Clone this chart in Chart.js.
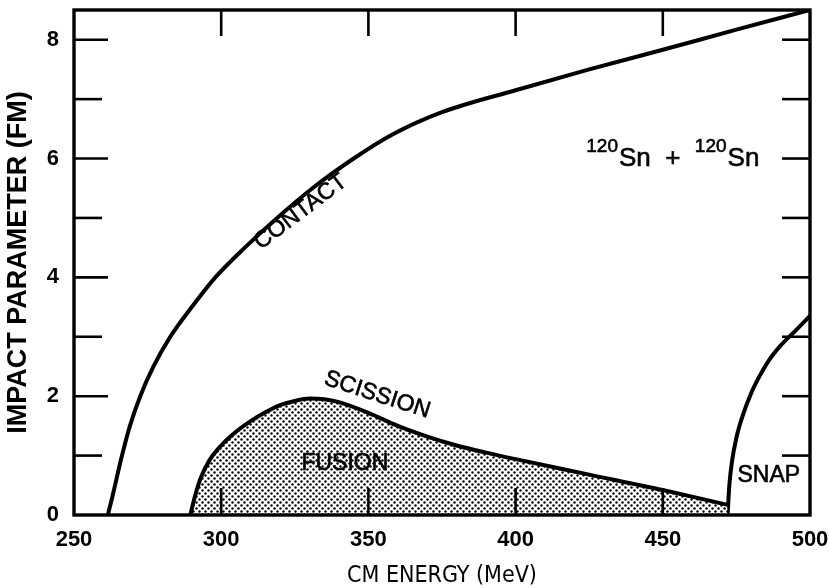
<!DOCTYPE html>
<html>
<head>
<meta charset="utf-8">
<script src="https://cdn.jsdelivr.net/npm/chart.js@4.4.0/dist/chart.umd.min.js"></script>
<style>
html,body{margin:0;padding:0;background:#fff;}
#wrap{width:829px;height:588px;}
</style>
</head>
<body>
<div id="wrap"><canvas id="c" width="829" height="588"></canvas></div>
<script>
// ---- data ----
const energyTickValues = [250, 300, 350, 400, 450, 500];
const impactTickValues = [0, 2, 4, 6, 8];

const contactEnergy = [261.5, 263, 266.3, 269, 272.5, 277, 282.7, 290, 298, 308, 319, 331, 345, 358, 375, 400, 425, 450, 475, 500];
const contactImpact = [0, 0.3, 1.0, 1.5, 2.0, 2.5, 3.0, 3.5, 4.0, 4.5, 5.0, 5.5, 6.0, 6.4, 6.78, 7.15, 7.5, 7.83, 8.17, 8.5];

const scissionEnergy = [289.5, 291, 293, 296, 300, 305, 310, 315, 320, 325, 330, 335, 340, 350, 360, 370, 380, 390, 400, 425, 450, 472];
const scissionImpact = [0, 0.3, 0.62, 0.92, 1.17, 1.4, 1.58, 1.73, 1.85, 1.92, 1.96, 1.95, 1.9, 1.72, 1.5, 1.32, 1.17, 1.05, 0.94, 0.68, 0.42, 0.17];

const snapEnergy = [472, 472.6, 473.5, 475, 477, 480, 483, 486, 490, 495, 500];
const snapImpact = [0, 0.5, 0.9, 1.3, 1.65, 2.05, 2.35, 2.6, 2.85, 3.1, 3.35];

const curveLabels = ["CONTACT", "SCISSION", "FUSION", "SNAP"];

// ---- helpers ----
function pts(xs, ys) { return xs.map((x, i) => ({ x: x, y: ys[i] })); }

const ctx0 = document.getElementById('c').getContext('2d');
function dotPattern() {
  const p = document.createElement('canvas');
  p.width = 6; p.height = 6;
  const g = p.getContext('2d');
  g.fillStyle = '#ffffff'; g.fillRect(0, 0, 6, 6);
  g.fillStyle = '#000000';
  g.beginPath(); g.arc(1.5, 1.5, 1.2, 0, Math.PI * 2); g.fill();
  g.beginPath(); g.arc(4.5, 4.5, 1.2, 0, Math.PI * 2); g.fill();
  return ctx0.createPattern(p, 'repeat');
}

const FONT = "'Liberation Sans', Arial, Helvetica, sans-serif";
const NARROW = "'Liberation Sans Narrow', 'DejaVu Sans Condensed', 'Liberation Sans', sans-serif";

const framePlugin = {
  id: 'frame',
  afterDatasetsDraw(chart) {
    const { ctx, chartArea: a, scales: { x, y } } = chart;
    ctx.save();
    ctx.strokeStyle = '#000';
    ctx.lineCap = 'butt';
    // frame
    ctx.lineWidth = 3.4;
    ctx.strokeRect(a.left, a.top, a.right - a.left, a.bottom - a.top);
    ctx.lineWidth = 2.6;
    // left ticks (every unit)
    for (let v = 1; v <= 8; v++) {
      const py = y.getPixelForValue(v);
      const len = (v % 2 === 0) ? 34 : 28;
      ctx.beginPath(); ctx.moveTo(a.left, py); ctx.lineTo(a.left + len, py); ctx.stroke();
    }
    // right ticks
    for (let v = 1; v <= 8; v++) {
      const py = y.getPixelForValue(v);
      ctx.beginPath(); ctx.moveTo(a.right, py); ctx.lineTo(a.right - 28, py); ctx.stroke();
    }
    // top and bottom ticks
    energyTickValues.slice(1, -1).forEach(v => {
      const px = x.getPixelForValue(v);
      ctx.beginPath(); ctx.moveTo(px, a.top); ctx.lineTo(px, a.top + 26); ctx.stroke();
      ctx.beginPath(); ctx.moveTo(px, a.bottom); ctx.lineTo(px, a.bottom - 27); ctx.stroke();
    });

    // curve labels
    ctx.fillStyle = '#000';
    ctx.strokeStyle = '#000';
    ctx.lineWidth = 0.6;
    ctx.textAlign = 'center';
    ctx.textBaseline = 'middle';
    function rotText(t, xv, yv, deg, size) {
      ctx.save();
      ctx.translate(x.getPixelForValue(xv), y.getPixelForValue(yv));
      ctx.rotate(deg * Math.PI / 180);
      ctx.font = size + 'px ' + FONT;
      ctx.fillText(t, 0, 0);
      ctx.strokeText(t, 0, 0);
      ctx.restore();
    }
    rotText(curveLabels[0], 327, 5.1, -37, 23);
    rotText(curveLabels[1], 353, 2.02, 18, 23);
    rotText(curveLabels[2], 342, 0.87, 0, 23);
    rotText(curveLabels[3], 486, 0.67, 0, 23);

    // reaction label  120Sn + 120Sn
    ctx.textAlign = 'left';
    ctx.textBaseline = 'alphabetic';
    let px = x.getPixelForValue(424);
    const base = y.getPixelForValue(5.88);
    const sup = (t) => { ctx.font = '19px ' + FONT; ctx.fillText(t, px, base - 14); ctx.strokeText(t, px, base - 14); px += ctx.measureText(t).width + 1; };
    const main = (t) => { ctx.font = '26px ' + FONT; ctx.fillText(t, px, base); ctx.strokeText(t, px, base); px += ctx.measureText(t).width; };
    sup('120'); main('Sn'); main('  +  '); sup('120'); main('Sn');
    ctx.restore();
  }
};

new Chart(document.getElementById('c'), {
  type: 'line',
  data: {
    datasets: [
      {
        label: 'contact',
        data: pts(contactEnergy, contactImpact),
        borderColor: '#000', borderWidth: 4, pointRadius: 0,
        cubicInterpolationMode: 'monotone', fill: false
      },
      {
        label: 'scission',
        data: pts(scissionEnergy, scissionImpact),
        borderColor: '#000', borderWidth: 4, pointRadius: 0,
        cubicInterpolationMode: 'monotone',
        fill: 'origin', backgroundColor: dotPattern()
      },
      {
        label: 'snap',
        data: pts(snapEnergy, snapImpact),
        borderColor: '#000', borderWidth: 4, pointRadius: 0,
        cubicInterpolationMode: 'monotone', fill: false
      }
    ]
  },
  options: {
    responsive: false,
    animation: false,
    layout: { padding: { left: 0, right: 19, top: 10, bottom: 0 } },
    plugins: { legend: { display: false }, tooltip: { enabled: false } },
    scales: {
      x: {
        type: 'linear', min: 250, max: 500,
        afterBuildTicks: s => { s.ticks = energyTickValues.map(v => ({ value: v })); },
        afterFit: s => { s.height = 73; s.paddingLeft = 0; s.paddingRight = 0; },
        grid: { display: false, drawTicks: false },
        border: { display: false },
        ticks: { color: '#000', padding: 12, maxRotation: 0, font: { family: FONT, size: 22, weight: 'bold' } },
        title: { display: true, text: 'CM ENERGY (MeV)', color: '#000', padding: { top: 0.5, bottom: 0.5 }, font: { family: NARROW, size: 23, weight: 'normal', lineHeight: 1 } }
      },
      y: {
        type: 'linear', min: 0, max: 8.5,
        afterBuildTicks: s => { s.ticks = impactTickValues.map(v => ({ value: v })); },
        afterFit: s => { s.width = 74; s.paddingTop = 0; s.paddingBottom = 0; },
        grid: { display: false, drawTicks: false },
        border: { display: false },
        ticks: { color: '#000', padding: 15, font: { family: FONT, size: 22, weight: 'bold' } },
        title: { display: true, text: 'IMPACT PARAMETER (FM)', color: '#000', padding: { top: 2, bottom: 0 }, font: { family: FONT, size: 27, weight: 'bold' } }
      }
    }
  },
  plugins: [framePlugin]
});
</script>
</body>
</html>
